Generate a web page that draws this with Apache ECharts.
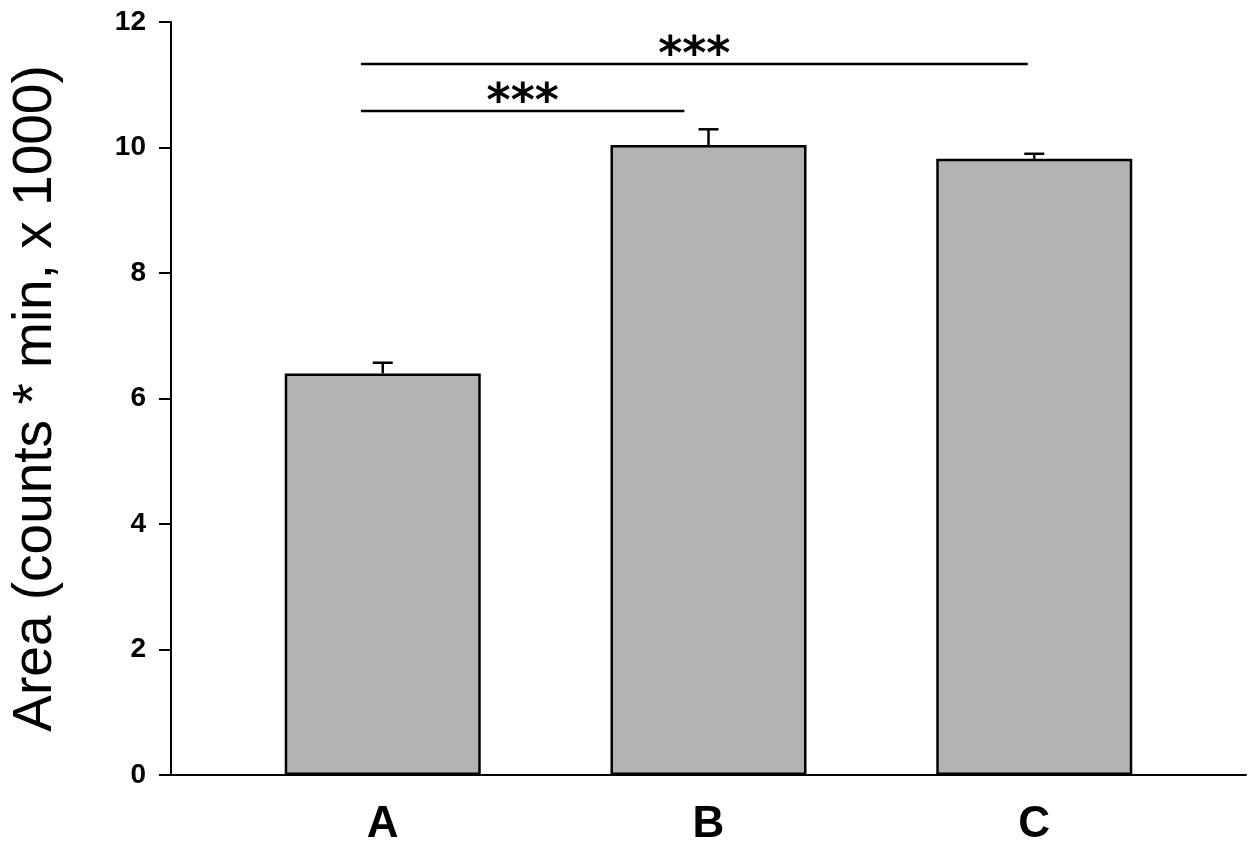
<!DOCTYPE html>
<html>
<head>
<meta charset="utf-8">
<script src="https://cdn.jsdelivr.net/npm/echarts@6/dist/echarts.min.js"></script>
<style>
html,body{margin:0;padding:0;background:#fff;}
#chart{width:1256px;height:850px;}
</style>
</head>
<body>
<div id="chart"></div>
<script>
// ---- data ----
var categories = ['A', 'B', 'C'];
var positions = [1, 2, 3];
var means = [6.40, 10.04, 9.82];
var errors = [0.17, 0.25, 0.08];
var yTicks = [0, 2, 4, 6, 8, 10, 12];
// significance brackets: start x, end x, height, label
var sigStart = [0.933, 0.933];
var sigEnd = [1.926, 2.98];
var sigY = [10.58, 11.33];
var sigLabel = ['***', '***'];

var barData = positions.map(function (p, i) { return [p, means[i]]; });
var errData = positions.map(function (p, i) { return [p, means[i], means[i] + errors[i]]; });
var sigData = sigStart.map(function (s, i) { return [s, sigEnd[i], sigY[i], i]; });

var chart = echarts.init(document.getElementById('chart'), null, {renderer: 'canvas'});
chart.setOption({
  backgroundColor: '#ffffff',
  animation: false,
  grid: {left: 171, right: 10, top: 22, bottom: 75, containLabel: false},
  xAxis: {
    type: 'value',
    min: 0.35,
    max: 3.65,
    axisLine: {show: true, onZero: false, lineStyle: {color: '#000', width: 2}},
    axisTick: {show: false},
    splitLine: {show: false},
    axisLabel: {
      customValues: positions,
      margin: 28,
      color: '#000',
      fontFamily: 'Liberation Sans',
      fontWeight: 'bold',
      fontSize: 44,
      formatter: function (v) {
        var i = positions.indexOf(Math.round(v));
        return i >= 0 ? categories[i] : '';
      }
    }
  },
  yAxis: {
    type: 'value',
    min: 0,
    max: 12,
    interval: 2,
    name: 'Area (counts * min, x 1000)',
    nameLocation: 'middle',
    nameGap: 108,
    nameTextStyle: {color: '#000', fontFamily: 'Liberation Sans', fontSize: 55},
    axisLine: {show: true, lineStyle: {color: '#000', width: 2}},
    axisTick: {show: true, length: 12, lineStyle: {color: '#000', width: 2}},
    splitLine: {show: false},
    axisLabel: {
      margin: 25,
      color: '#000',
      fontFamily: 'Liberation Sans',
      fontWeight: 'bold',
      fontSize: 28,
      formatter: function (v) { return yTicks.indexOf(v) >= 0 ? String(v) : ''; }
    }
  },
  series: [
    {
      type: 'bar',
      data: barData,
      barWidth: 196,
      itemStyle: {color: '#b3b3b3', borderColor: '#000', borderWidth: 2.5},
      z: 2
    },
    {
      type: 'custom',
      data: errData,
      z: 3,
      renderItem: function (params, api) {
        var x = api.value(0);
        var top = api.coord([x, api.value(2)]);
        var base = api.coord([x, api.value(1)]);
        var capHalf = 10;
        var st = {stroke: '#000', lineWidth: 2.5};
        return {
          type: 'group',
          children: [
            {type: 'line', shape: {x1: top[0], y1: base[1], x2: top[0], y2: top[1]}, style: st},
            {type: 'line', shape: {x1: top[0] - capHalf, y1: top[1], x2: top[0] + capHalf, y2: top[1]}, style: st}
          ]
        };
      }
    },
    {
      type: 'custom',
      data: sigData,
      z: 4,
      renderItem: function (params, api) {
        var p1 = api.coord([api.value(0), api.value(2)]);
        var p2 = api.coord([api.value(1), api.value(2)]);
        var idx = api.value(3);
        return {
          type: 'group',
          children: [
            {type: 'line', shape: {x1: p1[0], y1: p1[1], x2: p2[0], y2: p2[1]}, style: {stroke: '#000', lineWidth: 2.5}},
            {type: 'text', style: {
              x: (p1[0] + p2[0]) / 2, y: p1[1] - 7,
              text: sigLabel[idx],
              fill: '#000',
              font: 'bold 46px "DejaVu Sans"',
              align: 'center', verticalAlign: 'middle'
            }}
          ]
        };
      }
    }
  ]
});
</script>
</body>
</html>
